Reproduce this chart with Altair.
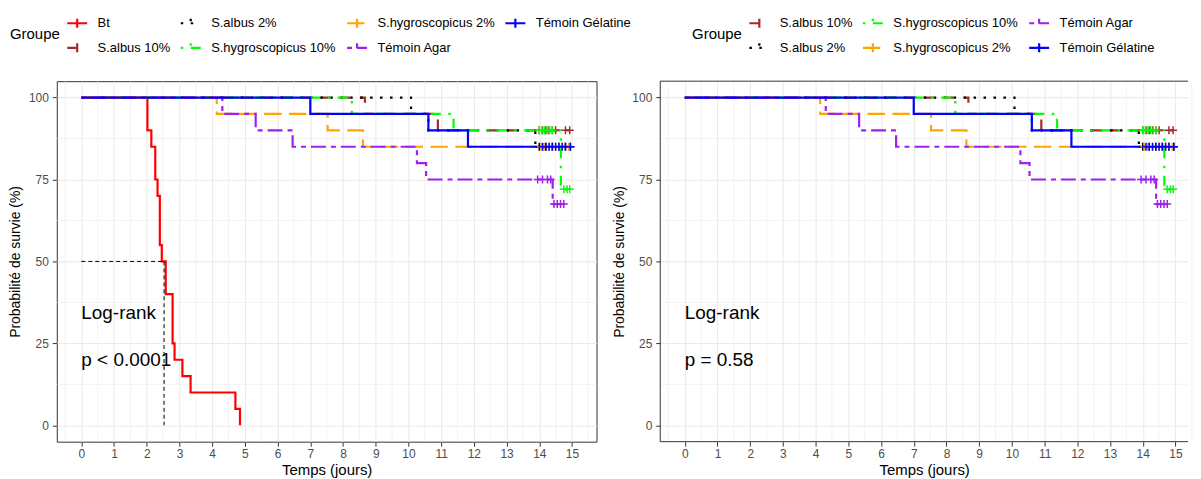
import altair as alt
import pandas as pd

FONT = "Liberation Sans"

# ---- groups, colours, line types ----
groups = ["Bt", "S.albus 10%", "S.albus 2%", "S.hygroscopicus 10%",
          "S.hygroscopicus 2%", "Témoin Agar", "Témoin Gélatine"]
colors = ["#FF0000", "#A52A2A", "#000000", "#00FF00", "#FFA500", "#A020F0", "#0000FF"]
dashes = [[1, 0], [10, 10], [2.5, 7.5], [2.5, 7.5, 10, 7.5], [17.5, 7.5], [5, 5, 15, 5], [1, 0]]

# ---- Kaplan-Meier steps (time in days, survival in %) ----
bt_times = [0, 2.02, 2.14, 2.26, 2.33, 2.40, 2.46, 2.58, 2.79, 2.85, 3.09, 3.34, 4.71, 4.85]
bt_surv = [100, 90, 85, 75, 70, 55, 50, 40, 25, 20, 15, 10, 5, 0]

albus10_times = [0, 8.67, 10.9]
albus10_surv = [100, 95, 90]

albus2_times = [0, 10.08, 10.61, 13.88]
albus2_surv = [100, 95, 90, 85]

hygro10_times = [0, 8.27, 11.38, 14.66]
hygro10_surv = [100, 95, 90, 72]

hygro2_times = [0, 4.14, 7.53, 8.61]
hygro2_surv = [100, 95, 90, 85]

agar_times = [0, 4.31, 5.33, 6.46, 10.26, 10.54, 14.41]
agar_surv = [100, 95, 90, 85, 80, 75, 67.5]

gelatine_times = [0, 7.0, 10.61, 11.82]
gelatine_surv = [100, 95, 90, 85]

# ---- censored observations ----
albus10_cens_t = [14.0, 14.1, 14.2, 14.3, 14.4, 14.5, 14.8, 14.93]
albus10_cens_s = [90, 90, 90, 90, 90, 90, 90, 90]

albus2_cens_t = [14.0, 14.2, 14.4, 14.6, 14.8, 14.95]
albus2_cens_s = [85, 85, 85, 85, 85, 85]

hygro10_cens_t = [14.0, 14.08, 14.16, 14.24, 14.32, 14.4, 14.75, 14.85, 14.93]
hygro10_cens_s = [90, 90, 90, 90, 90, 90, 72, 72, 72]

hygro2_cens_t = [14.05, 14.15, 14.3, 14.4, 14.5, 14.6, 14.7, 14.8, 14.9]
hygro2_cens_s = [85, 85, 85, 85, 85, 85, 85, 85, 85]

agar_cens_t = [13.95, 14.1, 14.25, 14.35, 14.45, 14.55, 14.65, 14.75]
agar_cens_s = [75, 75, 75, 75, 67.5, 67.5, 67.5, 67.5]

gelatine_cens_t = [14.1, 14.2, 14.3, 14.4, 14.5, 14.6, 14.7, 14.8, 14.95]
gelatine_cens_s = [85, 85, 85, 85, 85, 85, 85, 85, 85]

steps = {
    "Bt": (bt_times, bt_surv, [], []),
    "S.albus 10%": (albus10_times, albus10_surv, albus10_cens_t, albus10_cens_s),
    "S.albus 2%": (albus2_times, albus2_surv, albus2_cens_t, albus2_cens_s),
    "S.hygroscopicus 10%": (hygro10_times, hygro10_surv, hygro10_cens_t, hygro10_cens_s),
    "S.hygroscopicus 2%": (hygro2_times, hygro2_surv, hygro2_cens_t, hygro2_cens_s),
    "Témoin Agar": (agar_times, agar_surv, agar_cens_t, agar_cens_s),
    "Témoin Gélatine": (gelatine_times, gelatine_surv, gelatine_cens_t, gelatine_cens_s),
}

# median survival line for Bt
median_time = 2.53
median_level = 50

x_ticks = list(range(16))
y_ticks = [0, 25, 50, 75, 100]
x_minor = [-0.5] + [i + 0.5 for i in range(16)]
y_minor = [12.5, 37.5, 62.5, 87.5]

X_MIN, X_MAX_FULL = -0.75, 15.75
Y_MIN, Y_MAX = -5, 105
PW_LEFT, PW_RIGHT, PH = 542, 530, 362
# the right panel runs off the page edge in the reference: keep the same day-scale
X_MAX_RIGHT = X_MIN + (X_MAX_FULL - X_MIN) * PW_RIGHT / PW_LEFT


def xenc(xmax, field="time"):
    return alt.X(f"{field}:Q",
                 scale=alt.Scale(domain=[X_MIN, xmax], nice=False, zero=False),
                 axis=alt.Axis(values=x_ticks, title="Temps (jours)", format="d",
                               titleFontSize=15, titlePadding=2.5, labelPadding=2.5))


def yenc(field="surv"):
    return alt.Y(f"{field}:Q",
                 scale=alt.Scale(domain=[Y_MIN, Y_MAX], nice=False, zero=False),
                 axis=alt.Axis(values=y_ticks, title="Probabilité de survie (%)", format="d",
                               titleFontSize=14, titlePadding=5.5, labelPadding=4))


def panel(names, ncols, legend_x, pval, with_median, xmax, width, border_rules):
    line_rows, cens_rows = [], []
    for g in names:
        t, s, ct, cs = steps[g]
        for a, b in zip(t, s):
            line_rows.append({"time": a, "surv": b, "Groupe": g})
        end = max(ct) if ct else t[-1]
        if end > t[-1]:
            line_rows.append({"time": end, "surv": s[-1], "Groupe": g})
        for a, b in zip(ct, cs):
            cens_rows.append({"time": a, "surv": b, "Groupe": g})
    lines_df = pd.DataFrame(line_rows)
    cens_df = pd.DataFrame(cens_rows)

    col_range = [colors[groups.index(g)] for g in names]
    dash_range = [dashes[groups.index(g)] for g in names]
    leg = alt.Legend(orient="none", legendX=legend_x, legendY=-70, columns=ncols,
                     title="Groupe", titleOrient="left", titleAnchor="middle",
                     titleBaseline="middle")
    cscale = alt.Scale(domain=names, range=col_range)
    color = alt.Color("Groupe:N", scale=cscale, legend=leg)
    sdash = alt.StrokeDash("Groupe:N", scale=alt.Scale(domain=names, range=dash_range), legend=leg)

    X = lambda f="time": xenc(xmax, f)

    minor_x = alt.Chart(pd.DataFrame({"time": x_minor})).mark_rule(
        color="#EBEBEB", strokeWidth=0.6).encode(x=X())
    minor_y = alt.Chart(pd.DataFrame({"surv": y_minor})).mark_rule(
        color="#EBEBEB", strokeWidth=0.6).encode(y=yenc())

    curves = alt.Chart(lines_df).mark_line(interpolate="step-after", strokeWidth=2.2,
                                           strokeCap="butt").encode(
        x=X(), y=yenc(), color=color, strokeDash=sdash)
    cens = alt.Chart(cens_df).mark_point(shape="M-1,0H1M0,-1V1", filled=False, size=64,
                                         strokeWidth=1.5, opacity=1).encode(
        x=X(), y=yenc(), color=alt.Color("Groupe:N", scale=cscale, legend=leg))

    texts = pd.DataFrame({"time": [0, 0], "surv": [34.3, 19.8], "label": ["Log-rank", pval]})
    txt = alt.Chart(texts).mark_text(align="left", baseline="middle", fontSize=19,
                                     font=FONT, color="black").encode(
        x=X(), y=yenc(), text="label:N")

    layers = [minor_x, minor_y, curves, cens]
    if with_median:
        med = pd.DataFrame({"time": [0, median_time], "surv": [median_level, median_level],
                            "time2": [median_time, median_time], "surv2": [median_level, 0]})
        layers.append(alt.Chart(med).mark_rule(color="black", strokeWidth=1, strokeDash=[4, 3]).encode(
            x=X(), y=yenc(), x2="time2:Q", y2="surv2:Q"))
    layers.append(txt)
    if border_rules:
        # panel frame on the three visible sides (left, top, bottom), taken from the scale domain
        frame = pd.DataFrame({"time": [X_MIN, X_MIN, X_MIN], "surv": [Y_MIN, Y_MAX, Y_MIN],
                              "time2": [X_MIN, xmax, xmax], "surv2": [Y_MAX, Y_MAX, Y_MIN]})
        layers.append(alt.Chart(frame).mark_rule(color="#333333", strokeWidth=1).encode(
            x=X(), y=yenc(), x2="time2:Q", y2="surv2:Q"))
        return alt.layer(*layers).properties(width=width, height=PH,
                                             view=alt.ViewBackground(stroke=None))
    return alt.layer(*layers).properties(width=width, height=PH)


left = panel(groups, 4, -47, "p < 0.0001", True, X_MAX_FULL, PW_LEFT, False)
right = panel(groups[1:], 3, 32, "p = 0.58", False, X_MAX_RIGHT, PW_RIGHT, True)

chart = alt.hconcat(left, right, spacing=64, bounds="flush").resolve_scale(
    color="independent", strokeDash="independent"
).properties(
    padding={"left": 0, "top": 1.5, "right": 0, "bottom": 0}
).configure_view(
    stroke="#333333", strokeWidth=1
).configure_axis(
    domain=False, grid=True, gridColor="#EBEBEB", gridWidth=1.1,
    tickColor="#333333", tickSize=4.5, tickWidth=1,
    labelColor="#4D4D4D", labelFontSize=12, labelFont=FONT, labelPadding=2,
    titleFont=FONT, titleFontSize=15, titleFontWeight="normal", titleColor="black",
    titlePadding=4
).configure_legend(
    labelFont=FONT, labelFontSize=13, labelColor="black",
    titleFont=FONT, titleFontSize=15, titleFontWeight="normal", titleColor="black",
    symbolType="M-1,0H1M0,-0.45V0.45", symbolSize=400, symbolStrokeWidth=2.2,
    rowPadding=4, columnPadding=6, labelOffset=9, titlePadding=5
)

chart.save("out.html", embed_options={"renderer": "svg", "actions": False})
